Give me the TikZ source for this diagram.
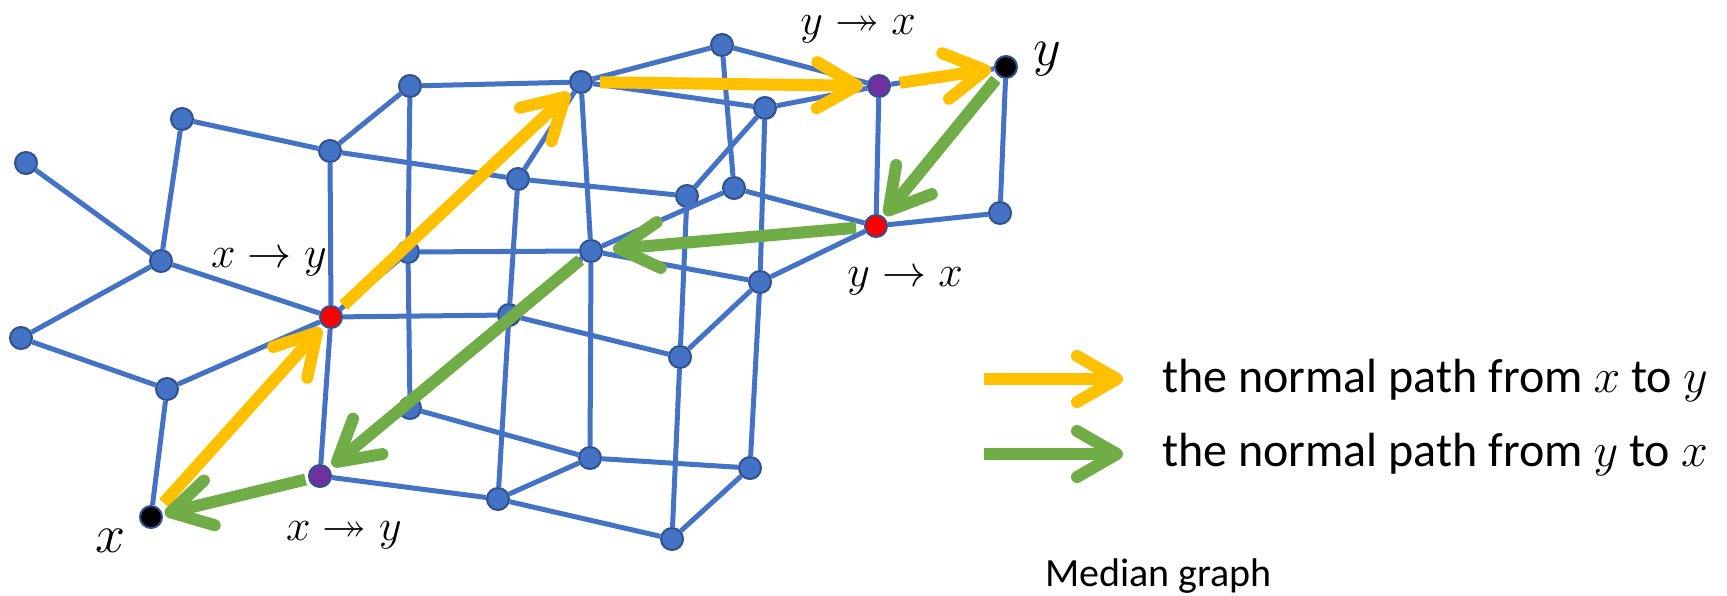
\RequirePackage{fix-cm}
\documentclass[tikz,border=0pt]{standalone}
\usepackage{amssymb}
\usepackage{fontspec}
\setmainfont{Carlito}
\usetikzlibrary{arrows.meta}
\definecolor{eblue}{HTML}{4472C4}
\definecolor{bdr}{HTML}{2F528F}
\definecolor{ylw}{HTML}{FFC000}
\definecolor{grn}{HTML}{70AD47}
\definecolor{prp}{HTML}{7030A0}
\begin{document}
\begin{tikzpicture}[x=1pt,y=-1pt,
  vtx/.style={circle, fill=eblue, draw=bdr, line width=2pt, minimum size=22pt, inner sep=0pt},
  redv/.style={vtx, fill=red},
  prpv/.style={vtx, fill=prp},
  blkv/.style={vtx, fill=black},
  edge/.style={draw=eblue, line width=5pt},
  patharrow/.style={line width=12pt, -{Straight Barb[length=40pt,width=46pt,round]}},
  yarr/.style={patharrow, draw=ylw},
  garr/.style={patharrow, draw=grn},
  mlabel/.style={inner sep=0pt, anchor=base, font=\fontsize{44}{50}\selectfont},
  biglabel/.style={inner sep=0pt, anchor=base, font=\fontsize{54}{60}\selectfont},
  legtext/.style={inner sep=0pt, anchor=base west, font=\fontsize{48}{56}\selectfont},
]
\useasboundingbox (0,0) rectangle (1727,596);
% vertices
\node[vtx] (a1) at (26,163) {};
\node[vtx] (a2) at (182,119) {};
\node[vtx] (a3) at (330,151) {};
\node[vtx] (a4) at (410,86) {};
\node[vtx] (a5) at (581,82) {};
\node[vtx] (a6) at (722,45) {};
\node[prpv] (p2) at (879,86) {};
\node[blkv] (y) at (1006,67) {};
\node[vtx] (a7) at (765,108) {};
\node[vtx] (a8) at (518,179) {};
\node[vtx] (a9) at (687,196) {};
\node[vtx] (a10) at (734,188) {};
\node[redv] (r2) at (876,226) {};
\node[vtx] (a11) at (1000,213) {};
\node[vtx] (a12) at (161,261) {};
\node[vtx] (a13) at (408,252) {};
\node[vtx] (a14) at (591,251) {};
\node[redv] (r1) at (331,317) {};
\node[vtx] (a15) at (509,315) {};
\node[vtx] (a16) at (760,282) {};
\node[vtx] (a17) at (21,338) {};
\node[vtx] (a18) at (167,389) {};
\node[vtx] (a19) at (410,408) {};
\node[vtx] (a20) at (680,357) {};
\node[blkv] (x) at (151,517) {};
\node[prpv] (p1) at (320,476) {};
\node[vtx] (a21) at (498,499) {};
\node[vtx] (a22) at (590,458) {};
\node[vtx] (a23) at (750,468) {};
\node[vtx] (a24) at (672,539) {};
% edges
\foreach \u/\v in {a1/a12, a2/a12, a2/a3, a12/r1, a12/a17, a17/a18, a18/r1, a18/x,
  a3/a4, a3/r1, a3/a8, a4/a5, a4/a13, a5/a8, a5/a14, a5/a6, a5/a7,
  a6/p2, a6/a10, a7/p2, a7/a9, a7/a16, p2/y, p2/r2, y/a11, r2/a11,
  a10/r2, r2/a16, a8/a9, a8/a15, a9/a20, a10/a14, a13/a14, r1/a13,
  a13/a19, r1/a15, r1/p1, a14/a15, a14/a16, a14/a22, a15/a20, a15/a21,
  a16/a20, a16/a23, a20/a24, a19/a22, a22/a21, a22/a23, a21/a24, a23/a24, p1/a21}
  {\draw[edge] (\u) -- (\v);}
% normal paths
\draw[yarr, shorten <=7pt, shorten >=3pt] (x) -- (r1);
\draw[yarr, shorten <=5pt, shorten >=4pt] (r1) -- (a5);
\draw[yarr, shorten <=7pt, shorten >=4pt] (a5) -- (p2);
\draw[yarr, shorten <=9pt, shorten >=3pt] (p2) -- (y);
\draw[garr, shorten <=4pt, shorten >=2pt] (y) -- (r2);
\draw[garr, shorten <=8pt, shorten >=10pt] (r2) -- (a14);
\draw[garr, shorten <=2pt, shorten >=4pt] (a14) -- (p1);
\draw[garr, shorten <=3pt, shorten >=2pt] (p1) -- (x);
% labels
\node[mlabel] (lxy) at (269,267) {$x \rightarrow y$};
\node[mlabel] (lxyy) at (344,540) {$x \twoheadrightarrow y$};
\node[mlabel] (lyxx) at (858,35) {$y \twoheadrightarrow x$};
\node[mlabel] (lyx) at (905,287) {$y \rightarrow x$};
\node[biglabel] (lx) at (111,552) {$x$};
\node[biglabel] (ly) at (1047,66) {$y$};
% legend
\coordinate (ys) at (984,379);
\coordinate (ye) at (1123,379);
\coordinate (gs) at (984,454);
\coordinate (ge) at (1123,454);
\draw[yarr] (ys) -- (ye);
\draw[garr] (gs) -- (ge);
\node[legtext] (t1) at (1162,392) {the normal path from $x$ to $y$};
\node[legtext] (t2) at (1162,466) {the normal path from $y$ to $x$};
\node[inner sep=0pt, anchor=base west, font=\fontsize{40}{48}\selectfont] (mg) at (1045,586) {Median graph};
\end{tikzpicture}
\end{document}
